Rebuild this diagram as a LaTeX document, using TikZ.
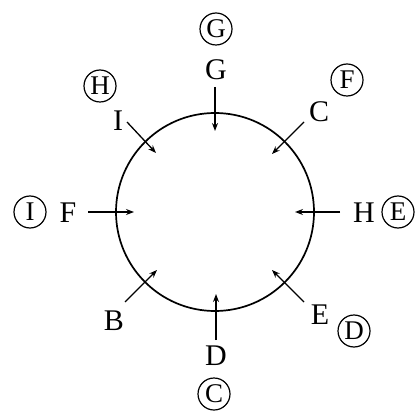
\documentclass[tikz,border=0pt]{standalone}
\usepackage{fontspec}
\setmainfont{Liberation Serif}
\usetikzlibrary{arrows.meta}
\begin{document}
\begin{tikzpicture}[x=1pt,y=-1pt,
  lab/.style={inner sep=0pt,font=\fontsize{30}{30}\selectfont},
  clab/.style={circle,draw,line width=1.2pt,inner sep=0pt,minimum size=32pt,font=\fontsize{27}{27}\selectfont},
  arr/.style={line width=1.3pt,-{Stealth[length=8pt,width=6pt]}},
  ring/.style={line width=1.7pt}]
\useasboundingbox (0,0) rectangle (417,419);
\node[ring,draw,circle,minimum size=198pt,inner sep=0pt] (ring) at (215,212) {};
% labels
\node[lab] (G) at (216,70) {G};
\node[clab] (cG) at (216,29) {G};
\node[lab] (I) at (118,121) {I};
\node[clab] (cH) at (100,86) {H};
\node[lab] (C) at (319,112) {C};
\node[clab] (cF) at (347,80) {F};
\node[lab] (F) at (68,213) {F};
\node[clab] (cI) at (30,212) {I};
\node[lab] (H) at (364,213) {H};
\node[clab] (cE) at (398,212) {E};
\node[lab] (B) at (114,321) {B};
\node[lab] (E) at (320,315) {E};
\node[clab] (cD) at (354,331) {D};
\node[lab] (D) at (216,356) {D};
\node[clab] (cC) at (214,394) {C};
% arrow coordinates
\coordinate (g1) at (215,87); \coordinate (g2) at (215,131);
\coordinate (f1) at (88,212); \coordinate (f2) at (134,212);
\coordinate (h1) at (340,212); \coordinate (h2) at (295,212);
\coordinate (d1) at (216,340); \coordinate (d2) at (216,294);
\coordinate (i1) at (127,122); \coordinate (i2) at (156,153);
\coordinate (c1) at (304,122); \coordinate (c2) at (272,154);
\coordinate (b1) at (125,302); \coordinate (b2) at (157,270);
\coordinate (e1) at (304,302); \coordinate (e2) at (272,270);
\draw[arr] (g1) -- (g2);
\draw[arr] (f1) -- (f2);
\draw[arr] (h1) -- (h2);
\draw[arr] (d1) -- (d2);
\draw[arr] (i1) -- (i2);
\draw[arr] (c1) -- (c2);
\draw[arr] (b1) -- (b2);
\draw[arr] (e1) -- (e2);
\end{tikzpicture}
\end{document}
